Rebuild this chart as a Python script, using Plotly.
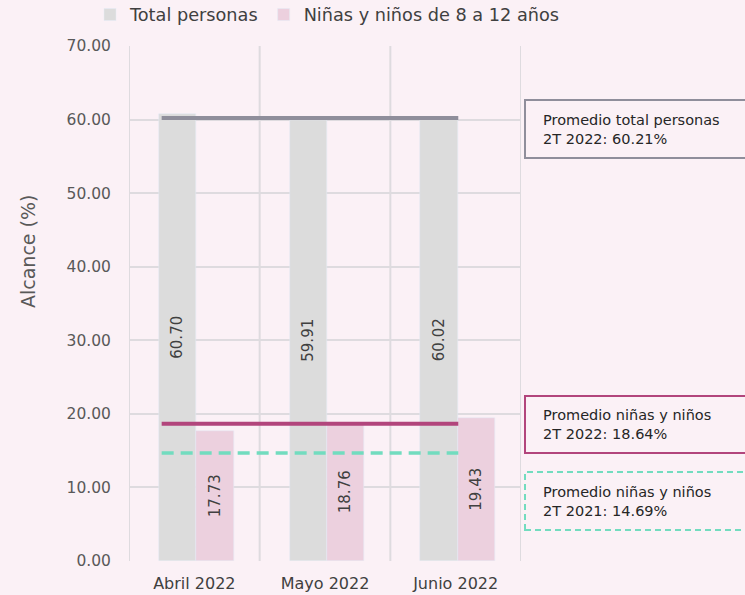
import plotly.graph_objects as go

categories = ["Abril 2022", "Mayo 2022", "Junio 2022"]
total_personas = [60.70, 59.91, 60.02]
ninas_ninos = [17.73, 18.76, 19.43]
prom_total_2022 = 60.21
prom_ninos_2022 = 18.64
prom_ninos_2021 = 14.69
y_ticks = [0, 10, 20, 30, 40, 50, 60, 70]

FONT = "DejaVu Sans"
BG = "#fbf1f6"
GRID = "#dedbdf"
TXT = "#404040"
C_TOTAL = "#dcdcdc"
C_NINOS = "#ecd0de"
C_LTOTAL = "#8f8e9b"
C_LNINOS = "#b2457c"
C_L2021 = "#72dcbf"

idx = list(range(len(categories)))
BW = 0.285
OFF = -0.27
line_x = [idx[0] + OFF + 0.02, idx[-1] + 0.02]

fig = go.Figure()
fig.add_trace(go.Bar(
    x=idx, y=total_personas, name="Total personas", marker_color=C_TOTAL,
    width=BW, offset=OFF,
    text=[f"{v:.2f}" for v in total_personas], textposition="inside",
    insidetextanchor="middle", textangle=-90,
    textfont=dict(family=FONT, size=15, color=TXT),
))
fig.add_trace(go.Bar(
    x=idx, y=ninas_ninos, name="Niñas y niños de 8 a 12 años", marker_color=C_NINOS,
    width=BW, offset=OFF + BW,
    text=[f"{v:.2f}" for v in ninas_ninos], textposition="inside",
    insidetextanchor="middle", textangle=-90,
    textfont=dict(family=FONT, size=15, color=TXT),
))
fig.add_trace(go.Scatter(x=line_x, y=[prom_total_2022] * 2, mode="lines",
                         line=dict(color=C_LTOTAL, width=4), showlegend=False, hoverinfo="skip"))
fig.add_trace(go.Scatter(x=line_x, y=[prom_ninos_2022] * 2, mode="lines",
                         line=dict(color=C_LNINOS, width=4), showlegend=False, hoverinfo="skip"))
fig.add_trace(go.Scatter(x=line_x, y=[prom_ninos_2021] * 2, mode="lines",
                         line=dict(color=C_L2021, width=3.5, dash="12px,7px"),
                         showlegend=False, hoverinfo="skip"))

L, R, T, B = 129, 224, 46, 34
W, H = 745, 595
PW, PH = W - L - R, H - T - B

def px_x(p):
    return (p - L) / PW

def px_y(p):
    return (H - B - p) / PH

boxes = [
    (100, 158, C_LTOTAL, "solid", "Promedio total personas<br>2T 2022: " + f"{prom_total_2022:.2f}%"),
    (396, 453, C_LNINOS, "solid", "Promedio niñas y niños<br>2T 2022: " + f"{prom_ninos_2022:.2f}%"),
    (472, 530, C_L2021, "6px,4px", "Promedio niñas y niños<br>2T 2021: " + f"{prom_ninos_2021:.2f}%"),
]
# category boundary gridlines (inner and outer edges)
shapes = [dict(type="line", xref="x", yref="y", x0=b, x1=b, y0=y_ticks[0], y1=y_ticks[-1],
               line=dict(color=GRID, width=2), layer="below")
          for b in [i - 0.5 for i in range(len(categories) + 1)]]
annotations = []
for y0, y1, col, dash, txt in boxes:
    shapes.append(dict(type="rect", xref="paper", yref="paper",
                       x0=px_x(525), x1=px_x(765), y0=px_y(y1), y1=px_y(y0),
                       line=dict(color=col, width=2, dash=dash), fillcolor="rgba(0,0,0,0)"))
    annotations.append(dict(xref="paper", yref="paper", x=px_x(541), y=px_y((y0 + y1) / 2),
                            xanchor="left", yanchor="middle", align="left", showarrow=False,
                            text=txt, font=dict(family=FONT, size=14.5, color="#262626")))

annotations.append(dict(xref="paper", yref="paper", x=px_x(28), y=px_y(252),
                        xanchor="center", yanchor="middle", textangle=-90, showarrow=False,
                        text="Alcance (%)", font=dict(family=FONT, size=19, color="#595959")))

fig.update_layout(
    width=W, height=H,
    margin=dict(l=L, r=R, t=T, b=B, autoexpand=False),
    paper_bgcolor=BG, plot_bgcolor=BG,
    font=dict(family=FONT, color=TXT),
    showlegend=True,
    legend=dict(orientation="h", x=px_x(90), y=px_y(15), xanchor="left", yanchor="middle",
                font=dict(family=FONT, size=17.7, color=TXT), bgcolor="rgba(0,0,0,0)",
                itemwidth=30, traceorder="normal"),
    bargap=0,
    shapes=shapes,
    annotations=annotations,
    xaxis=dict(
        range=[-0.5, len(categories) - 0.5],
        tickmode="array", tickvals=idx, ticktext=categories,
        showgrid=False, zeroline=False, showline=False,
        ticks="outside", ticklen=8, tickcolor="rgba(0,0,0,0)",
        tickfont=dict(family=FONT, size=16, color=TXT),
        fixedrange=True,
    ),
    yaxis=dict(
        range=[0, 70], tickmode="array", tickvals=y_ticks,
        ticktext=[f"{v:.2f}" for v in y_ticks],
        showgrid=True, gridcolor=GRID, gridwidth=2, zeroline=False, showline=False,
        tickfont=dict(family=FONT, size=15.5, color="#595959"),
        ticks="outside", ticklen=14, tickcolor="rgba(0,0,0,0)",
    ),
)

fig.write_html("out.html", config={"displayModeBar": False},
               post_script="document.body.style.margin='0';document.body.style.overflow='hidden';")
